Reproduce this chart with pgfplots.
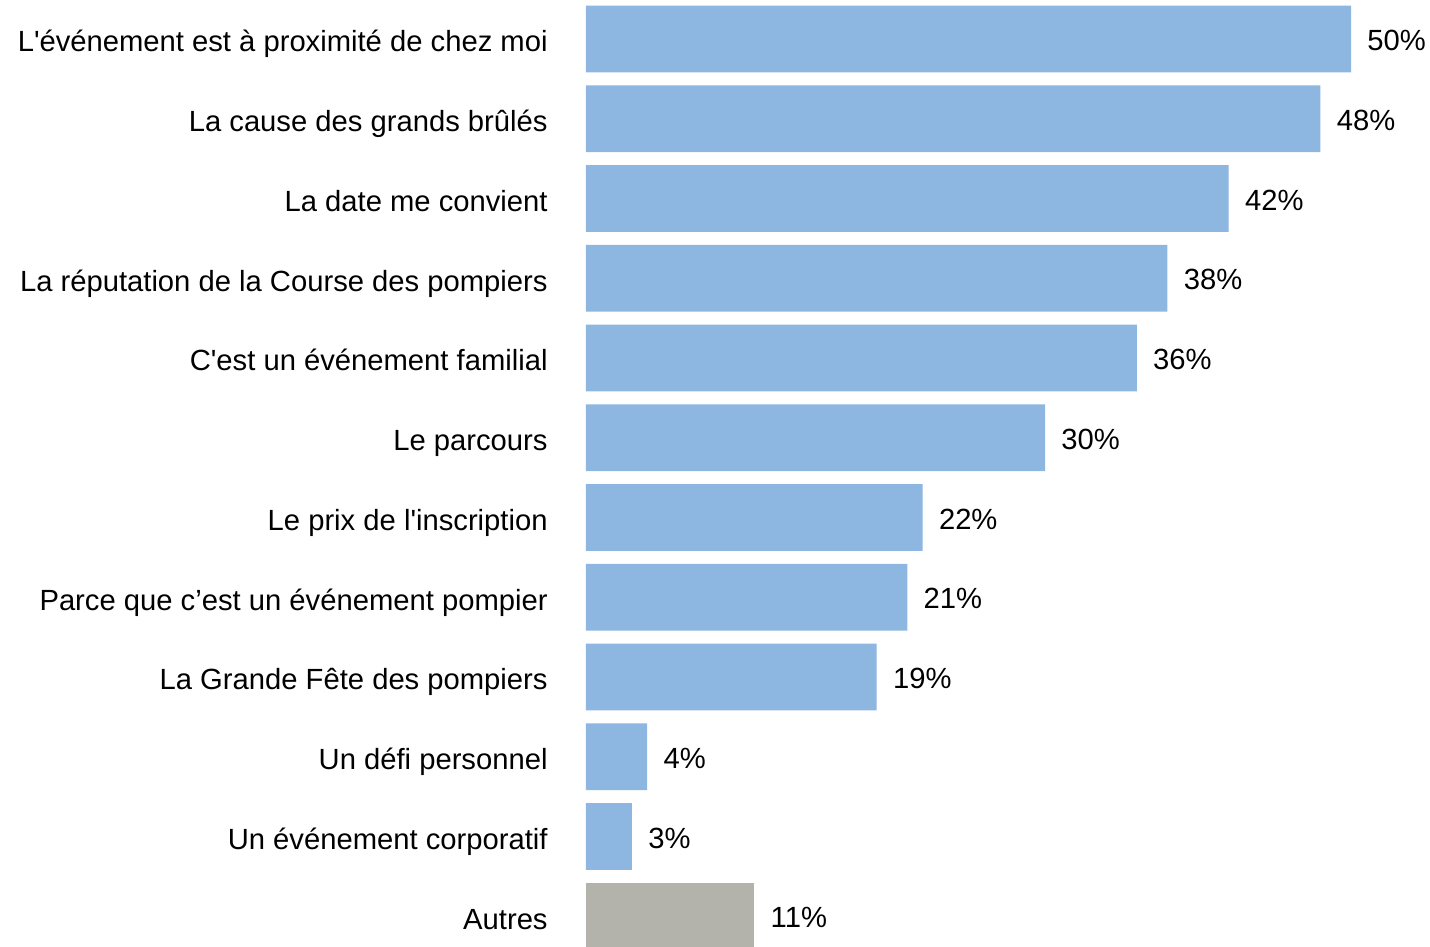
\documentclass[border=0pt]{standalone}
\usepackage{fontspec}
\setmainfont{Liberation Sans}[Ligatures=TeXOff]
\usepackage{pgfplots}
\pgfplotsset{compat=1.18}
\usepackage{pgfplotstable}
\definecolor{barblue}{RGB}{141,182,224}
\definecolor{bargrey}{RGB}{180,179,171}
\pgfplotstableread{
y x lab
0 50 50\%
1 48 48\%
2 42 42\%
3 38 38\%
4 36 36\%
5 30 30\%
6 22 22\%
7 21 21\%
8 19 19\%
9 4 4\%
10 3 3\%
}\blue
\pgfplotstableread{
y x lab
11 11 11\%
}\grey
\begin{document}
\begin{tikzpicture}
\begin{axis}[
  scale only axis,
  width=422pt, height=473.5pt,
  xmin=0, xmax=55.16,
  ymin=-0.489, ymax=11.385,
  y dir=reverse,
  axis line style={draw=none},
  xtick=\empty,
  xbar, bar shift=0pt, bar width=33.3pt,
  ytick={0,...,11},
  yticklabels={L'événement est à proximité de chez moi, La cause des grands brûlés, La date me convient, La réputation de la Course des pompiers, C'est un événement familial, Le parcours, Le prix de l'inscription, Parce que c’est un événement pompier, La Grande Fête des pompiers, Un défi personnel, Un événement corporatif, Autres},
  major tick length=0pt,
  ytick style={draw=none},
  yticklabel style={inner sep=0pt, xshift=-19pt, yshift=-1.2pt, text height=10.4pt, text depth=0pt},
  font=\fontsize{14.6pt}{17pt}\selectfont,
  point meta=explicit symbolic,
  nodes near coords,
  nodes near coords style={anchor=west, inner sep=0pt, xshift=8pt, yshift=-0.6pt, text height=10.4pt, text depth=0pt},
]
\addplot[fill=barblue, draw=none] table[x=x, y=y, meta=lab] {\blue};
\addplot[fill=bargrey, draw=none] table[x=x, y=y, meta=lab] {\grey};
\end{axis}
\path ([xshift=-293pt]current axis.south west) rectangle (current axis.north east);
\end{tikzpicture}
\end{document}
